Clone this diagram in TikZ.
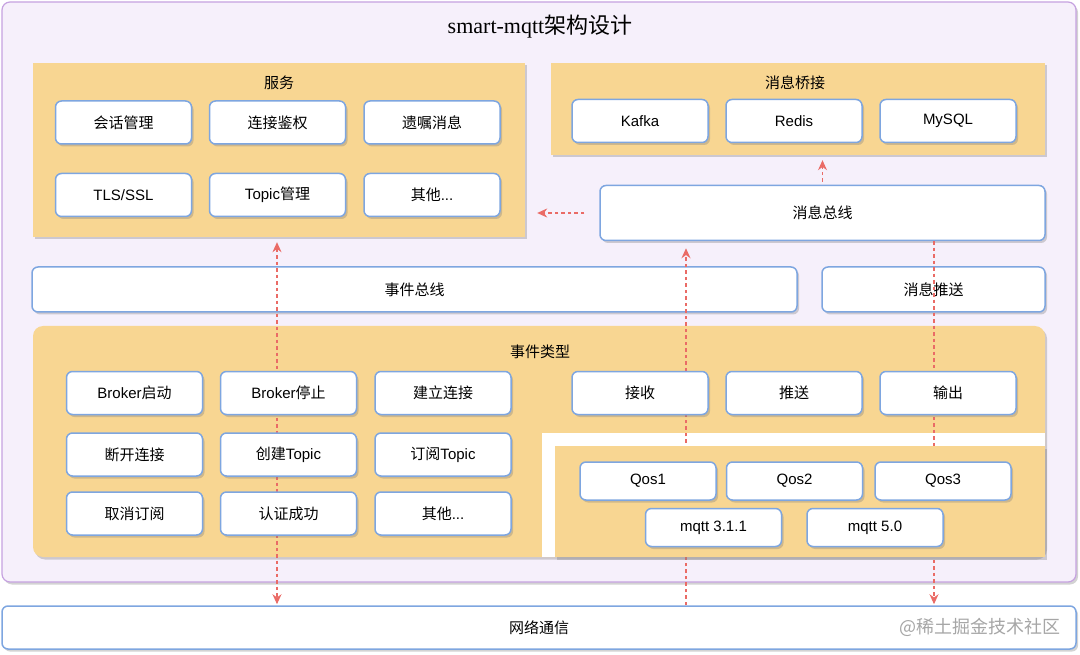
\documentclass[tikz,border=0pt]{standalone}
\usepackage{fontspec}
\setmainfont{Liberation Sans}
\newfontfamily\cjk{Noto Sans CJK SC}
\newfontfamily\titleserif{Liberation Serif}
\usetikzlibrary{arrows.meta,shadows}
\definecolor{framefill}{RGB}{246,240,251}
\definecolor{frameline}{RGB}{198,162,224}
\definecolor{panelfill}{RGB}{248,214,146}
\definecolor{boxblue}{RGB}{126,166,224}
\definecolor{flowred}{RGB}{234,107,102}
\newcommand\zh[1]{{\cjk #1}}

\begin{document}
\begin{tikzpicture}[x=1pt,y=-1pt,
  >={Stealth[length=10pt,width=9pt]},
  softshadow/.style={drop shadow={shadow xshift=2pt,shadow yshift=-2.5pt,opacity=0.35}},
  frame/.style={draw=frameline, line width=1.2pt, fill=framefill, rounded corners=8pt, inner sep=0pt, softshadow},
  panel/.style={fill=panelfill, inner sep=0pt, softshadow},
  paneltitle/.style={font=\fontsize{15}{18}\selectfont},
  box/.style={rounded corners=6pt, draw=boxblue, line width=1.5pt, fill=white, minimum width=136pt,
    minimum height=43pt, inner sep=0pt, font=\fontsize{15}{18}\selectfont, softshadow},
  small/.style={box, minimum height=38pt},
  flow/.style={draw=flowred, line width=1.1pt, dash pattern=on 3.5pt off 3pt}]
  \useasboundingbox (0,0) rectangle (1080,655);

  % frame and panels
  \node[frame, minimum width=1074pt, minimum height=580pt] (frame) at (539,292) {};
  \node[font=\fontsize{22}{26}\selectfont] (title) at (540,27) {{\titleserif smart-mqtt}\zh{架构设计}};
  \node[panel, minimum width=492pt, minimum height=174pt] (svc) at (279,150) {};
  \node[panel, minimum width=494pt, minimum height=92pt] (bridge) at (798,109) {};
  \node[panel, rounded corners=10pt, minimum width=1012pt, minimum height=231pt] (evt) at (539,441.5) {};
  \node[paneltitle] (svctitle) at (279,83) {\zh{服务}};
  \node[paneltitle] (bridgetitle) at (795,83) {\zh{消息桥接}};
  \node[paneltitle] (evttitle) at (540,352) {\zh{事件类型}};

  % buses
  \node[box, minimum width=445pt, minimum height=55pt] (msgbus) at (822.5,213) {\zh{消息总线}};
  \node[box, minimum width=765pt, minimum height=45pt] (evbus) at (414.5,289.5) {\zh{事件总线}};
  \node[box, minimum width=223pt, minimum height=45pt] (push) at (933.5,289.5) {\zh{消息推送}};
  \node[box, minimum width=1074pt, minimum height=43pt] (net) at (539,627.5) {\zh{网络通信}};
  \node[text=black!35, font=\fontsize{18}{20}\selectfont] (mark) at (980,627) {\zh{@稀土掘金技术社区}};
  \node[fill=white, inner sep=0pt, minimum width=503pt, minimum height=124pt] (inset) at (793.5,495) {};

  % dashed flows
  \coordinate (l1) at (277,0);
  \coordinate (l2) at (686,0);
  \coordinate (l3) at (934,0);
  \draw[flow, <->, shorten <=5pt, shorten >=1pt] (l1 |- svc.south) -- (l1 |- net.north);
  \draw[flow, ->, shorten >=7pt] (l2 |- net.north) -- (l2 |- msgbus.south);
  \draw[flow, ->, shorten >=1pt] (l3 |- msgbus.south) -- (l3 |- net.north);
  \draw[flow, ->, shorten <=15pt, shorten >=12pt] (msgbus.west) -- (msgbus.west -| svc.east);
  \draw[flow, ->, shorten <=3pt, shorten >=5pt] (msgbus.north) -- (msgbus.north |- bridge.south);

  \node[panel, minimum width=490pt, minimum height=111pt] (qospanel) at (800,501.5) {};

  % service boxes
  \node[box] (s1) at (123.5,122.5) {\zh{会话管理}};
  \node[box] (s2) at (277.5,122.5) {\zh{连接鉴权}};
  \node[box] (s3) at (432,122.5) {\zh{遗嘱消息}};
  \node[box] (s4) at (123.5,195) {TLS/SSL};
  \node[box] (s5) at (277.5,195) {Topic\zh{管理}};
  \node[box] (s6) at (432,195) {\zh{其他}...};

  % bridge boxes
  \node[box] (b1) at (640,121) {Kafka};
  \node[box] (b2) at (794,121) {Redis};
  \node[box] (b3) at (948,121) {MySQL};

  % event boxes
  \node[box] (e1) at (134.5,393) {Broker\zh{启动}};
  \node[box] (e2) at (288.5,393) {Broker\zh{停止}};
  \node[box] (e3) at (443,393) {\zh{建立连接}};
  \node[box] (e4) at (134.5,454.5) {\zh{断开连接}};
  \node[box] (e5) at (288.5,454.5) {\zh{创建}Topic};
  \node[box] (e6) at (443,454.5) {\zh{订阅}Topic};
  \node[box] (e7) at (134.5,513.5) {\zh{取消订阅}};
  \node[box] (e8) at (288.5,513.5) {\zh{认证成功}};
  \node[box] (e9) at (443,513.5) {\zh{其他}...};
  \node[box] (r1) at (640,393) {\zh{接收}};
  \node[box] (r2) at (794,393) {\zh{推送}};
  \node[box] (r3) at (948,393) {\zh{输出}};

  % qos and protocol boxes
  \node[small] (q1) at (648,481) {Qos1};
  \node[small] (q2) at (794.5,481) {Qos2};
  \node[small] (q3) at (943,481) {Qos3};
  \node[small] (m1) at (713.5,527.5) {mqtt 3.1.1};
  \node[small] (m2) at (875,527.5) {mqtt 5.0};
\end{tikzpicture}
\end{document}
